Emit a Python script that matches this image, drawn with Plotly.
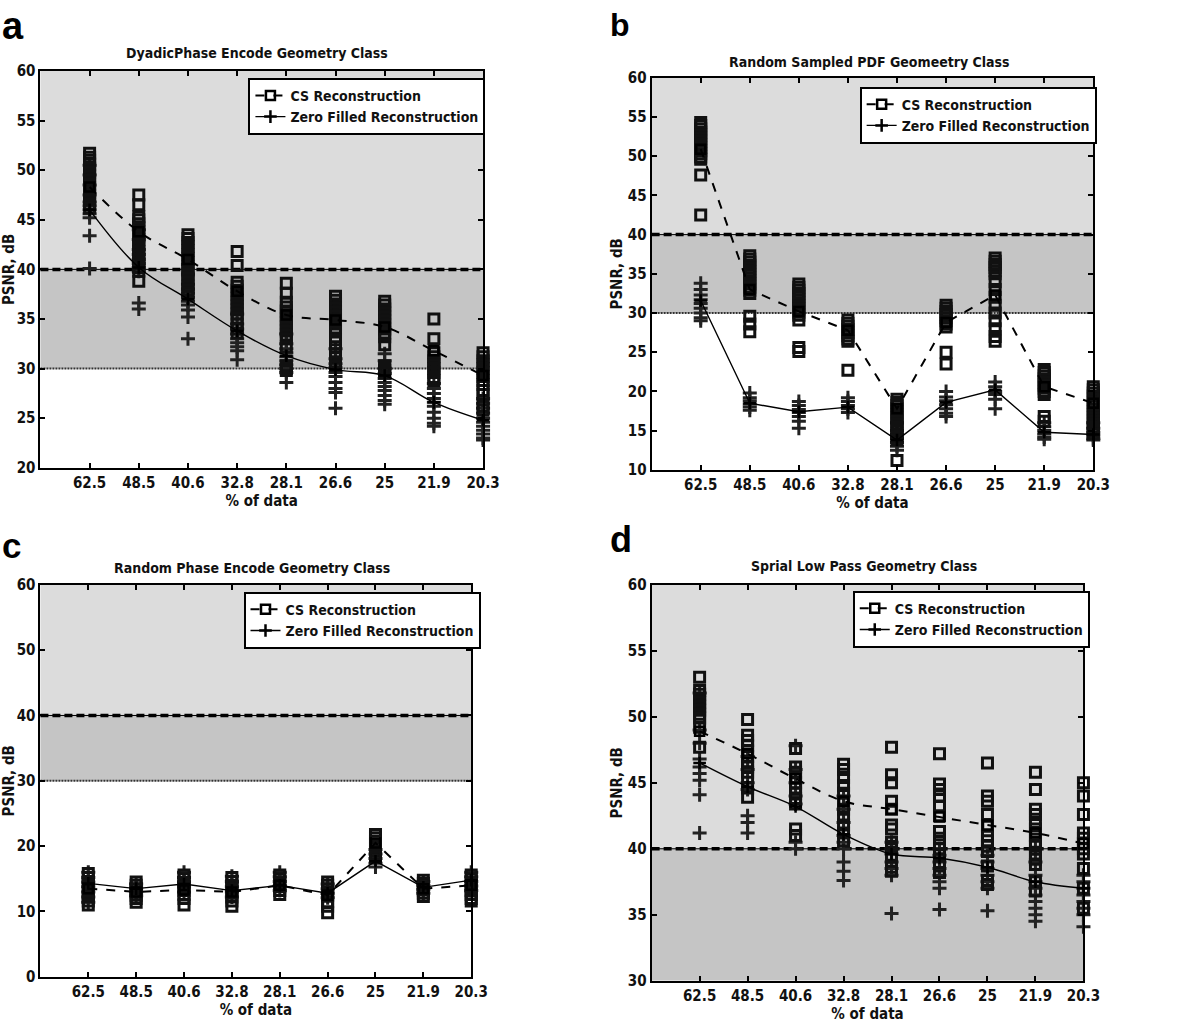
import plotly.graph_objects as go

# ---------------- data ----------------
categories = ["62.5", "48.5", "40.6", "32.8", "28.1", "26.6", "25", "21.9", "20.3"]

titles = ["DyadicPhase Encode Geometry Class",
          "Random Sampled PDF Geomeetry Class",
          "Random Phase Encode Geometry Class",
          "Sprial Low Pass Geometry Class"]
panel_letters = ["a", "b", "c", "d"]
legend_names = ["CS Reconstruction", "Zero Filled Reconstruction"]

# Panel a
cs_mean_a = [48.3, 43.8, 41.0, 37.8, 35.4, 34.9, 34.2, 31.8, 29.3]
zf_mean_a = [46.0, 40.2, 37.0, 33.8, 31.3, 29.9, 29.3, 26.6, 24.8]
cs_pts_a = [
    [51.7, 51.3, 51.0, 50.6, 50.2, 49.8, 49.4, 49.0, 48.6, 48.2, 47.8, 47.4, 47.0, 46.6, 46.2],
    [47.5, 46.5, 45.3, 45.0, 44.6, 44.2, 43.8, 43.4, 43.0, 42.6, 42.2, 41.8, 41.4, 41.0, 40.6, 40.2, 39.8, 38.8],
    [43.5, 43.1, 42.7, 42.3, 41.9, 41.5, 41.1, 40.7, 40.3, 39.9, 39.5, 39.1, 38.7, 38.3, 37.9, 37.6],
    [41.8, 40.4, 38.7, 38.3, 37.9, 37.5, 37.1, 36.7, 36.3, 35.9, 35.5, 35.1, 34.5, 34.0, 33.6],
    [38.6, 37.6, 36.7, 36.2, 35.8, 35.4, 35.0, 34.6, 34.2, 33.8, 33.4, 33.0, 32.2, 30.3, 30.0, 29.8],
    [37.3, 36.9, 36.5, 36.1, 35.7, 35.3, 34.9, 34.5, 34.1, 33.7, 32.9, 32.2, 31.5, 31.1, 30.7, 30.3],
    [36.8, 36.4, 36.0, 35.6, 35.2, 34.8, 34.4, 34.0, 33.6, 33.2, 32.4, 30.3, 30.0, 29.8, 29.6],
    [35.0, 33.0, 31.6, 31.2, 30.8, 30.4, 30.0, 29.6, 29.1, 28.8],
    [31.6, 31.2, 30.8, 30.4, 30.0, 29.6, 29.2, 28.8, 28.4, 27.8, 27.4, 26.2, 25.8],
]
zf_pts_a = [
    [50.5, 49.5, 48.5, 47.5, 46.8, 46.4, 46.0, 45.6, 45.2, 43.4, 40.1],
    [44.0, 43.0, 42.0, 41.5, 41.0, 40.6, 40.2, 39.8, 36.6, 36.0],
    [40.5, 39.5, 38.5, 38.0, 37.6, 37.2, 36.8, 36.4, 35.9, 35.2, 33.0],
    [35.5, 34.5, 34.0, 33.5, 33.0, 32.6, 32.2, 31.8, 30.9],
    [33.5, 32.5, 32.0, 31.6, 31.2, 30.8, 30.4, 30.0, 29.6, 28.6],
    [32.0, 31.0, 30.5, 30.1, 29.6, 29.2, 28.6, 28.0, 27.6, 26.0],
    [31.5, 30.8, 30.0, 29.5, 29.0, 28.6, 28.2, 27.8, 27.3, 26.8, 26.4],
    [28.5, 28.0, 27.5, 27.0, 26.6, 26.2, 25.6, 25.0, 24.5, 24.2],
    [27.0, 26.5, 26.0, 25.5, 25.0, 24.6, 24.2, 23.8, 23.4, 23.0, 22.8],
]

# Panel b
cs_mean_b = [50.9, 33.0, 30.2, 27.8, 17.8, 28.8, 32.3, 20.6, 18.5]
zf_mean_b = [31.6, 18.5, 17.4, 18.0, 13.8, 18.6, 20.2, 14.8, 14.5]
cs_pts_b = [
    [54.3, 53.9, 53.5, 53.1, 52.7, 52.3, 51.9, 51.5, 51.1, 50.7, 50.3, 49.9, 49.6, 47.6, 42.5],
    [37.3, 36.9, 36.5, 36.1, 35.7, 35.3, 34.9, 34.5, 34.1, 33.7, 33.3, 32.9, 32.5, 29.6, 28.6, 27.6],
    [33.7, 33.3, 32.9, 32.5, 32.1, 31.7, 31.3, 30.9, 30.5, 30.1, 29.7, 29.1, 25.6, 25.1],
    [29.1, 28.7, 28.3, 27.9, 27.5, 27.1, 26.7, 26.4, 22.7],
    [19.0, 18.6, 18.2, 17.8, 17.4, 17.0, 16.6, 16.2, 15.8, 15.4, 15.0, 14.6, 14.2, 13.8, 11.2],
    [31.0, 30.6, 30.2, 29.8, 29.4, 29.0, 28.6, 28.2, 25.0, 23.5],
    [37.0, 36.6, 36.2, 35.8, 35.4, 35.0, 34.0, 33.0, 32.0, 31.0, 30.0, 29.0, 28.0, 27.0, 26.4],
    [22.8, 22.4, 22.0, 21.6, 21.2, 20.8, 20.4, 20.0, 19.6, 16.8, 16.2],
    [20.6, 20.2, 19.8, 19.4, 19.0, 18.6, 18.2, 17.8, 17.4, 17.0, 16.6, 16.2, 15.8, 15.4, 15.0, 14.6],
]
zf_pts_b = [
    [33.8, 33.0, 32.3, 31.7, 31.2, 30.6, 30.0, 29.4, 29.0],
    [19.8, 19.2, 18.8, 18.4, 18.0, 17.6],
    [18.7, 18.2, 17.7, 17.3, 16.8, 16.2, 15.3],
    [19.2, 18.7, 18.2, 17.8, 17.3],
    [16.0, 15.0, 14.5, 14.0, 13.5, 13.0, 12.5],
    [20.0, 19.3, 18.8, 18.3, 17.8, 17.2, 16.8],
    [21.2, 20.6, 20.0, 19.6, 19.0, 17.8],
    [16.0, 15.5, 15.0, 14.6, 14.2, 13.9],
    [16.0, 15.3, 14.8, 14.4, 14.0, 13.8],
]

# Panel c
cs_mean_c = [13.5, 13.0, 13.3, 13.0, 14.0, 12.5, 20.5, 13.5, 14.0]
zf_mean_c = [14.3, 13.5, 14.2, 13.2, 14.0, 12.8, 17.7, 13.7, 14.8]
cs_pts_c = [
    [15.8, 15.2, 14.6, 14.0, 13.4, 12.8, 12.2, 11.6, 11.0],
    [14.5, 14.0, 13.5, 13.0, 12.5, 12.0, 11.4],
    [15.6, 15.0, 14.4, 13.8, 13.2, 12.6, 12.0, 11.0],
    [15.2, 14.6, 14.0, 13.4, 12.8, 12.2, 11.6, 10.8],
    [15.6, 15.0, 14.4, 13.8, 13.2, 12.6],
    [14.5, 14.0, 13.5, 13.0, 12.5, 11.5, 10.8, 9.8],
    [21.8, 21.3, 20.8, 20.3, 19.8, 19.3, 18.8, 18.3],
    [14.8, 14.3, 13.8, 13.3, 12.8, 12.3],
    [15.6, 15.0, 14.4, 13.8, 13.2, 12.6, 12.0, 11.6],
]
zf_pts_c = [
    [16.0, 15.2, 14.5, 13.8, 13.0, 12.2, 11.4],
    [14.2, 13.6, 13.0, 12.4],
    [16.0, 15.2, 14.5, 13.8, 13.0],
    [15.4, 14.6, 13.8, 13.0, 12.2],
    [16.0, 15.3, 14.6, 13.9, 13.2],
    [14.2, 13.5, 12.8, 12.1],
    [19.5, 18.8, 18.1, 17.4, 16.8],
    [14.6, 14.0, 13.4, 12.8],
    [16.0, 15.3, 14.6, 13.9, 13.2],
]

# Panel d
cs_mean_d = [48.9, 47.2, 45.3, 43.6, 43.0, 42.4, 41.8, 41.2, 40.4]
zf_mean_d = [46.5, 44.7, 43.2, 41.1, 39.6, 39.3, 38.6, 37.5, 37.0]
cs_pts_d = [
    [53.0, 52.0, 51.7, 51.4, 51.1, 50.8, 50.5, 50.2, 49.9, 49.2, 47.7],
    [49.8, 48.6, 48.2, 47.8, 47.4, 47.0, 46.6, 46.2, 45.8, 45.4, 44.6, 43.9],
    [47.6, 46.2, 45.8, 45.4, 45.0, 44.6, 44.2, 43.8, 43.4, 41.5, 41.0],
    [46.4, 46.0, 45.4, 44.8, 44.2, 43.6, 43.0, 42.4, 41.8, 41.2, 40.6],
    [47.7, 45.6, 45.0, 43.6, 43.0, 41.8, 41.5, 40.5, 40.2, 40.0, 39.5, 38.6, 38.3],
    [47.2, 44.9, 44.5, 44.0, 43.2, 42.5, 41.3, 40.8, 40.3, 40.0, 39.6, 38.7, 38.2],
    [46.5, 44.0, 43.6, 42.6, 41.7, 41.0, 40.6, 40.2, 39.8, 38.7, 37.6, 37.3],
    [45.8, 44.5, 43.0, 42.6, 42.0, 41.5, 41.0, 40.5, 40.2, 39.6, 39.2, 38.8, 37.5, 36.8],
    [45.0, 44.0, 42.6, 41.2, 40.8, 40.4, 40.0, 39.6, 38.5, 37.0, 35.5],
]
zf_pts_d = [
    [51.8, 49.0, 48.0, 46.8, 46.2, 45.7, 45.2, 44.1, 41.2],
    [47.0, 46.0, 45.0, 44.5, 42.5, 42.0, 41.2],
    [47.8, 46.0, 45.0, 44.0, 43.4, 40.5, 40.0],
    [44.0, 43.0, 42.0, 41.0, 40.5, 40.0, 39.0, 38.3, 37.6],
    [40.5, 40.0, 39.6, 39.0, 38.5, 38.0, 35.1],
    [40.0, 39.5, 39.0, 38.5, 38.0, 37.5, 37.0, 35.4],
    [39.5, 39.0, 38.5, 38.0, 37.5, 37.0, 35.3],
    [40.0, 39.0, 38.0, 37.5, 37.0, 36.5, 36.0, 35.5, 35.0, 34.5],
    [38.0, 37.5, 37.0, 36.5, 36.0, 35.5, 35.0, 34.1],
]

y_ranges = [[20, 60], [10, 60], [0, 60], [30, 60]]
y_dticks = [5, 5, 10, 5]

panels = [
    (cs_mean_a, zf_mean_a, cs_pts_a, zf_pts_a),
    (cs_mean_b, zf_mean_b, cs_pts_b, zf_pts_b),
    (cs_mean_c, zf_mean_c, cs_pts_c, zf_pts_c),
    (cs_mean_d, zf_mean_d, cs_pts_d, zf_pts_d),
]
line_shapes = ["spline", "linear", "linear", "spline"]

# ---------------- layout geometry (pixels) ----------------
W, H = 1200, 1033
boxes = [(41, 490, 63, 467), (661, 1109, 70, 469), (41, 478, 586, 985), (661, 1099, 586, 989)]
legend_boxes = [(252, 70), (872, 79), (247, 593), (865, 592)]
title_pos = [(261, 45), (882, 54), (256, 569), (876, 567)]
letter_pos = [(0, -6), (617, -4), (0, 524), (617, 517)]
letter_sizes = [38, 32, 35, 36]

FONT = "Liberation Sans Narrow, DejaVu Sans Condensed, Arial Narrow, sans-serif"
INK = "#111111"
LIGHT = "#dcdcdc"
MID = "#c5c5c5"

fig = go.Figure()
layout = dict(width=W, height=H, margin=dict(l=0, r=0, t=0, b=0),
              paper_bgcolor="white", plot_bgcolor="white", showlegend=True,
              font=dict(family=FONT, color=INK, size=15, weight="bold"))
shapes = []
annotations = []

for i, (cs_mean, zf_mean, cs_pts, zf_pts) in enumerate(panels):
    n = i + 1
    xa = "x" if n == 1 else f"x{n}"
    ya = "y" if n == 1 else f"y{n}"
    leg = "legend" if n == 1 else f"legend{n}"
    l, r, t, b = boxes[i]
    layout["xaxis" if n == 1 else f"xaxis{n}"] = dict(
        domain=[l / W, r / W], anchor=ya, type="category",
        categoryorder="array", categoryarray=categories, range=[-1, 8],
        showline=True, linecolor="black", linewidth=2, mirror="ticks",
        ticks="inside", ticklen=5, tickwidth=2, tickcolor="black",
        showgrid=False, zeroline=False,
        tickfont=dict(family=FONT, size=15, color=INK, weight="bold"),
        title=dict(text="% of data", font=dict(family=FONT, size=15, color=INK, weight="bold"), standoff=0),
    )
    layout["yaxis" if n == 1 else f"yaxis{n}"] = dict(
        domain=[1 - b / H, 1 - t / H], anchor=xa, range=y_ranges[i], dtick=y_dticks[i],
        showline=True, linecolor="black", linewidth=2, mirror="ticks",
        ticks="inside", ticklen=5, tickwidth=2, tickcolor="black",
        showgrid=False, zeroline=False,
        tickfont=dict(family=FONT, size=15, color=INK, weight="bold"),
        title=dict(text="PSNR, dB", font=dict(family=FONT, size=15, color=INK, weight="bold"), standoff=2),
    )
    ylo, yhi = y_ranges[i]
    xd = f"{xa} domain"
    shapes.append(dict(type="rect", xref=xd, yref=ya, x0=0, x1=1, y0=max(40, ylo), y1=yhi,
                       fillcolor=LIGHT, line=dict(width=0), layer="below"))
    shapes.append(dict(type="rect", xref=xd, yref=ya, x0=0, x1=1, y0=max(30, ylo), y1=40,
                       fillcolor=MID, line=dict(width=0), layer="below"))
    shapes.append(dict(type="line", xref=xd, yref=ya, x0=0, x1=1, y0=40, y1=40,
                       line=dict(color="black", width=1), layer="below"))
    shapes.append(dict(type="line", xref=xd, yref=ya, x0=0, x1=1, y0=40, y1=40,
                       line=dict(color="black", width=3.5, dash="8px,4px"), layer="below"))
    if ylo < 30:
        shapes.append(dict(type="line", xref=xd, yref=ya, x0=0, x1=1, y0=30, y1=30,
                           line=dict(color="#333333", width=2, dash="2px,1px"), layer="below"))

    cx, cy, zx, zy = [], [], [], []
    for k, cat in enumerate(categories):
        cx += [cat] * len(cs_pts[k]); cy += cs_pts[k]
        zx += [cat] * len(zf_pts[k]); zy += zf_pts[k]
    fig.add_trace(go.Scatter(x=zx, y=zy, mode="markers", xaxis=xa, yaxis=ya, showlegend=False,
                             cliponaxis=False, legend=leg,
                             marker=dict(symbol="cross-thin", size=10, line=dict(color="#222222", width=3))))
    fig.add_trace(go.Scatter(x=cx, y=cy, mode="markers", xaxis=xa, yaxis=ya, showlegend=False,
                             cliponaxis=False, legend=leg,
                             marker=dict(symbol="square-open", size=10, color="#111111",
                                         line=dict(color="#111111", width=3))))
    fig.add_trace(go.Scatter(x=categories, y=cs_mean, mode="lines+markers", name=legend_names[0],
                             xaxis=xa, yaxis=ya, legend=leg, cliponaxis=False,
                             line=dict(color="black", width=2, dash="dash", shape=line_shapes[i]),
                             marker=dict(symbol="square-open", size=9, color="black",
                                         line=dict(color="black", width=2.5))))
    fig.add_trace(go.Scatter(x=categories, y=zf_mean, mode="lines+markers", name=legend_names[1],
                             xaxis=xa, yaxis=ya, legend=leg, cliponaxis=False,
                             line=dict(color="black", width=1.4, shape=line_shapes[i]),
                             marker=dict(symbol="cross-thin", size=9, line=dict(color="black", width=2.5))))

    lx, ly = legend_boxes[i]
    layout[leg] = dict(x=lx / W, y=1 - ly / H, xanchor="left", yanchor="top",
                       bgcolor="white", bordercolor="black", borderwidth=2,
                       font=dict(family=FONT, size=14, color=INK, weight="bold"))

    tx, ty = title_pos[i]
    annotations.append(dict(text=titles[i], x=tx / W, y=1 - ty / H, xref="paper", yref="paper",
                            xanchor="center", yanchor="middle", showarrow=False,
                            font=dict(family=FONT, size=14, color=INK, weight="bold")))
    px, py = letter_pos[i]
    annotations.append(dict(text=panel_letters[i], x=px / W, y=1 - py / H, xref="paper", yref="paper",
                            xanchor="left", yanchor="top", showarrow=False,
                            font=dict(family="Liberation Sans, Arial, sans-serif", size=letter_sizes[i],
                                      color="black", weight="bold")))

layout["shapes"] = shapes
layout["annotations"] = annotations
fig.update_layout(**layout)
fig.write_html("out.html", config={"displayModeBar": False},
               post_script="document.body.style.margin='0';")
